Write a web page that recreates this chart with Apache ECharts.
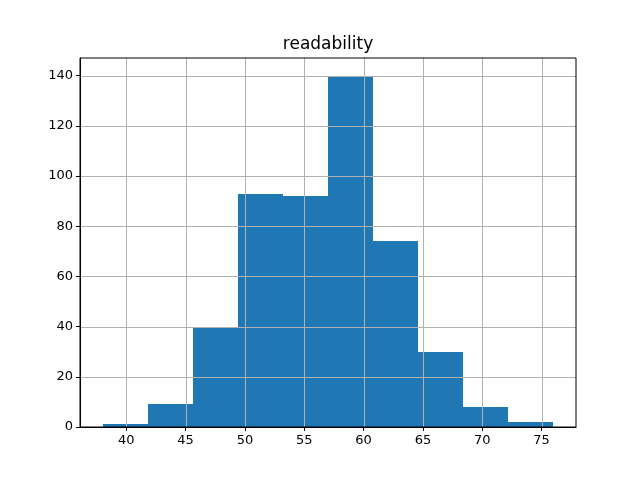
<!DOCTYPE html>
<html><head><meta charset="utf-8">
<script src="https://cdn.jsdelivr.net/npm/echarts@6/dist/echarts.min.js"></script>
<style>html,body{margin:0;padding:0;background:#fff}#c{width:640px;height:480px}</style>
</head><body><div id="c"></div>
<script>
const binEdges = [38.0, 41.8, 45.6, 49.4, 53.2, 57.0, 60.8, 64.6, 68.4, 72.2, 76.0];
const counts = [1, 9, 40, 93, 92, 140, 74, 30, 8, 2];
const xTicks = [40, 45, 50, 55, 60, 65, 70, 75];
const yTicks = [0, 20, 40, 60, 80, 100, 120, 140];
const titleText = 'readability';

const data = counts.map((c, i) => [binEdges[i], binEdges[i + 1], c]);
const font = 'DejaVu Sans';
const chart = echarts.init(document.getElementById('c'), null, {renderer: 'canvas'});
const axisCommon = {
  z: 5,
  axisLine: {show: true, onZero: false, lineStyle: {color: '#000', width: 1}},
  axisTick: {show: true, inside: false, length: 4, lineStyle: {color: '#000', width: 1}},
  axisLabel: {color: '#000', fontFamily: font, fontSize: 13},
  splitLine: {show: false}
};
chart.setOption({
  animation: false,
  title: {show: false},
  grid: {left: 80, right: 64, top: 58, bottom: 53, show: true, borderColor: '#000', borderWidth: 1, backgroundColor: 'transparent', z: 6},
  xAxis: Object.assign({}, axisCommon, {type: 'value', min: 36.1, max: 77.9,
    axisLabel: Object.assign({}, axisCommon.axisLabel, {margin: 7, customValues: xTicks}),
    axisTick: Object.assign({}, axisCommon.axisTick, {customValues: xTicks})
  }),
  yAxis: Object.assign({}, axisCommon, {type: 'value', min: 0, max: 147,
    axisLabel: Object.assign({}, axisCommon.axisLabel, {margin: 7, customValues: yTicks}),
    axisTick: Object.assign({}, axisCommon.axisTick, {customValues: yTicks})
  }),
  series: [{
    type: 'custom', z: 2,
    renderItem: function (params, api) {
      const p0 = api.coord([api.value(0), api.value(2)]);
      const p1 = api.coord([api.value(1), 0]);
      const x0 = Math.round(p0[0]), x1 = Math.round(p1[0]);
      const y0 = Math.round(p0[1]), y1 = Math.round(p1[1]);
      return {type: 'rect', shape: {x: x0, y: y0, width: x1 - x0, height: y1 - y0},
        style: {fill: '#1f77b4'}};
    },
    encode: {x: [0, 1], y: 2},
    data: data
  }, {
    type: 'custom', z: 4, silent: true,
    renderItem: function (params, api) {
      if (params.dataIndex !== 0) return null;
      const children = [];
      const yb = api.coord([0, 0])[1], yt = api.coord([0, 147])[1];
      const xl = api.coord([36.1, 0])[0], xr = api.coord([77.9, 0])[0];
      xTicks.forEach(t => { const x = Math.round(api.coord([t, 0])[0]) + 0.5;
        children.push({type: 'line', shape: {x1: x, y1: yb, x2: x, y2: yt}, style: {stroke: '#b0b0b0', lineWidth: 1}}); });
      yTicks.forEach(t => { const y = Math.round(api.coord([40, t])[1]) + 0.5;
        children.push({type: 'line', shape: {x1: xl, y1: y, x2: xr, y2: y}, style: {stroke: '#b0b0b0', lineWidth: 1}}); });
      const xc = (xl + xr) / 2;
      children.push({type: 'text', x: xc, y: 36, style: {text: titleText, align: 'center', verticalAlign: 'top',
        fontFamily: font, fontSize: 17, fill: '#000'}});
      return {type: 'group', children: children};
    },
    data: [[40, 0]],
    clip: false
  }]
});
</script></body></html>
